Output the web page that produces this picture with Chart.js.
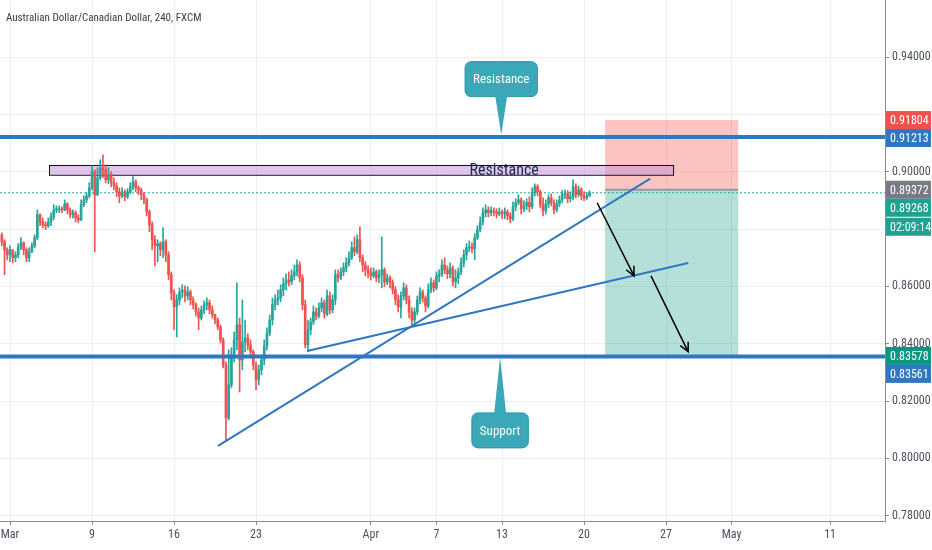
<!DOCTYPE html>
<html>
<head>
<meta charset="utf-8">
<title>AUD/CAD 240</title>
<script src="https://cdn.jsdelivr.net/npm/chart.js@4.4.1/dist/chart.umd.min.js"></script>
<style>
  html, body { margin: 0; padding: 0; background: #fff; }
  #wrap { width: 932px; height: 550px; }
</style>
</head>
<body>
<div id="wrap"><canvas id="chart" width="932" height="550"></canvas></div>
<script>
// AUD/CAD, 4h candles, 2 Mar - 20 Apr 2020.
// x = candle count from Mon 2 Mar (6 candles per trading day, weekends skipped)

// === data ===
const firstIndex = -3;
const firstOpen = 0.8780;

const closes = [
  0.8756, 0.8728, 0.8710, 0.8728, 0.8700, 0.8710, 0.8738, 0.8752, 0.8728, 0.8700,
  0.8721, 0.8742, 0.8770, 0.8850, 0.8825, 0.8815, 0.8812, 0.8825, 0.8843, 0.8867,
  0.8867, 0.8871, 0.8867, 0.8888, 0.8867, 0.8850, 0.8857, 0.8839, 0.8832, 0.8885,
  0.8902, 0.8916, 0.8944, 0.9000, 0.8920, 0.8979, 0.9014, 0.9007, 0.8972, 0.8990,
  0.8962, 0.8951, 0.8930, 0.8916, 0.8930, 0.8913, 0.8930, 0.8948, 0.8965, 0.8944,
  0.8937, 0.8920, 0.8902, 0.8860, 0.8815, 0.8763, 0.8742, 0.8749, 0.8728, 0.8756,
  0.8710, 0.8641, 0.8578, 0.8529, 0.8553, 0.8581, 0.8588, 0.8567, 0.8581, 0.8553,
  0.8536, 0.8511, 0.8490, 0.8518, 0.8536, 0.8543, 0.8518, 0.8501, 0.8483, 0.8459,
  0.8414, 0.8326, 0.8141, 0.8257, 0.8361, 0.8414, 0.8466, 0.8344, 0.8407, 0.8421,
  0.8396, 0.8372, 0.8326, 0.8274, 0.8309, 0.8344, 0.8393, 0.8438, 0.8483, 0.8536,
  0.8553, 0.8560, 0.8588, 0.8609, 0.8623, 0.8616, 0.8637, 0.8651, 0.8675, 0.8630,
  0.8536, 0.8396, 0.8449, 0.8476, 0.8511, 0.8497, 0.8525, 0.8543, 0.8504, 0.8567,
  0.8518, 0.8553, 0.8641, 0.8630, 0.8651, 0.8665, 0.8682, 0.8700, 0.8735, 0.8721,
  0.8763, 0.8700, 0.8675, 0.8658, 0.8647, 0.8637, 0.8651, 0.8630, 0.8641, 0.8658,
  0.8616, 0.8630, 0.8613, 0.8588, 0.8553, 0.8529, 0.8567, 0.8595, 0.8553, 0.8511,
  0.8483, 0.8511, 0.8553, 0.8581, 0.8560, 0.8532, 0.8588, 0.8613, 0.8595, 0.8637,
  0.8644, 0.8675, 0.8658, 0.8644, 0.8665, 0.8616, 0.8630, 0.8651, 0.8682, 0.8710,
  0.8735, 0.8738, 0.8731, 0.8770, 0.8798, 0.8825, 0.8857, 0.8867, 0.8857, 0.8864,
  0.8860, 0.8853, 0.8860, 0.8853, 0.8860, 0.8846, 0.8836, 0.8878, 0.8892, 0.8902,
  0.8871, 0.8881, 0.8892, 0.8878, 0.8927, 0.8948, 0.8930, 0.8885, 0.8864, 0.8888,
  0.8909, 0.8892, 0.8867, 0.8888, 0.8902, 0.8920, 0.8923, 0.8906, 0.8913, 0.8948,
  0.8920, 0.8937, 0.8916, 0.8909, 0.8916, 0.89268
];

const highs = [
  0.8787, 0.8763, 0.8735, 0.8742, 0.8728, 0.8721, 0.8749, 0.8770, 0.8756, 0.8735,
  0.8735, 0.8752, 0.8780, 0.8867, 0.8853, 0.8839, 0.8825, 0.8839, 0.8857, 0.8885,
  0.8881, 0.8881, 0.8878, 0.8902, 0.8892, 0.8874, 0.8867, 0.8864, 0.8850, 0.8902,
  0.8916, 0.8927, 0.8962, 0.9021, 0.9007, 0.9014, 0.9042, 0.9059, 0.9024, 0.9014,
  0.9000, 0.8979, 0.8962, 0.8944, 0.8944, 0.8937, 0.8941, 0.8962, 0.8983, 0.8972,
  0.8951, 0.8944, 0.8927, 0.8909, 0.8867, 0.8825, 0.8777, 0.8763, 0.8756, 0.8805,
  0.8763, 0.8721, 0.8651, 0.8588, 0.8571, 0.8595, 0.8606, 0.8602, 0.8599, 0.8588,
  0.8564, 0.8543, 0.8525, 0.8532, 0.8550, 0.8560, 0.8553, 0.8532, 0.8504, 0.8490,
  0.8466, 0.8421, 0.8337, 0.8379, 0.8386, 0.8442, 0.8613, 0.8490, 0.8553, 0.8483,
  0.8435, 0.8414, 0.8379, 0.8337, 0.8326, 0.8361, 0.8414, 0.8456, 0.8501, 0.8560,
  0.8571, 0.8588, 0.8606, 0.8630, 0.8644, 0.8651, 0.8658, 0.8675, 0.8693, 0.8686,
  0.8641, 0.8553, 0.8483, 0.8490, 0.8532, 0.8525, 0.8543, 0.8560, 0.8553, 0.8588,
  0.8581, 0.8571, 0.8658, 0.8658, 0.8665, 0.8682, 0.8700, 0.8721, 0.8756, 0.8773,
  0.8780, 0.8808, 0.8710, 0.8686, 0.8672, 0.8665, 0.8665, 0.8658, 0.8658, 0.8773,
  0.8665, 0.8644, 0.8637, 0.8623, 0.8599, 0.8571, 0.8581, 0.8613, 0.8606, 0.8567,
  0.8525, 0.8525, 0.8567, 0.8595, 0.8588, 0.8567, 0.8609, 0.8630, 0.8623, 0.8651,
  0.8658, 0.8693, 0.8700, 0.8672, 0.8682, 0.8672, 0.8658, 0.8665, 0.8700, 0.8728,
  0.8749, 0.8759, 0.8752, 0.8784, 0.8812, 0.8843, 0.8874, 0.8885, 0.8878, 0.8878,
  0.8874, 0.8871, 0.8874, 0.8867, 0.8874, 0.8867, 0.8857, 0.8895, 0.8906, 0.8920,
  0.8909, 0.8899, 0.8906, 0.8913, 0.8944, 0.8958, 0.8955, 0.8937, 0.8909, 0.8902,
  0.8920, 0.8923, 0.8902, 0.8902, 0.8916, 0.8934, 0.8937, 0.8934, 0.8930, 0.8972,
  0.8958, 0.8951, 0.8944, 0.8930, 0.8927, 0.8934
];

const lows = [
  0.8742, 0.8641, 0.8693, 0.8686, 0.8682, 0.8686, 0.8700, 0.8728, 0.8710, 0.8686,
  0.8686, 0.8717, 0.8735, 0.8763, 0.8812, 0.8805, 0.8798, 0.8805, 0.8812, 0.8832,
  0.8857, 0.8857, 0.8857, 0.8864, 0.8853, 0.8839, 0.8839, 0.8825, 0.8822, 0.8829,
  0.8878, 0.8892, 0.8909, 0.8937, 0.8721, 0.8916, 0.8972, 0.8979, 0.8962, 0.8958,
  0.8948, 0.8937, 0.8913, 0.8892, 0.8909, 0.8899, 0.8906, 0.8923, 0.8937, 0.8930,
  0.8920, 0.8902, 0.8888, 0.8846, 0.8791, 0.8728, 0.8672, 0.8686, 0.8707, 0.8700,
  0.8686, 0.8623, 0.8553, 0.8449, 0.8424, 0.8536, 0.8560, 0.8546, 0.8553, 0.8536,
  0.8522, 0.8497, 0.8449, 0.8483, 0.8504, 0.8518, 0.8504, 0.8490, 0.8469, 0.8449,
  0.8403, 0.8316, 0.8065, 0.8134, 0.8246, 0.8337, 0.8379, 0.8232, 0.8309, 0.8372,
  0.8379, 0.8351, 0.8309, 0.8239, 0.8257, 0.8292, 0.8326, 0.8379, 0.8428, 0.8466,
  0.8518, 0.8536, 0.8546, 0.8567, 0.8588, 0.8602, 0.8606, 0.8623, 0.8637, 0.8616,
  0.8518, 0.8386, 0.8372, 0.8431, 0.8466, 0.8483, 0.8490, 0.8511, 0.8490, 0.8497,
  0.8504, 0.8508, 0.8536, 0.8616, 0.8623, 0.8637, 0.8651, 0.8672, 0.8693, 0.8707,
  0.8714, 0.8686, 0.8651, 0.8637, 0.8630, 0.8623, 0.8630, 0.8616, 0.8613, 0.8595,
  0.8599, 0.8606, 0.8595, 0.8574, 0.8536, 0.8511, 0.8490, 0.8553, 0.8539, 0.8490,
  0.8466, 0.8469, 0.8501, 0.8539, 0.8546, 0.8511, 0.8525, 0.8578, 0.8581, 0.8588,
  0.8616, 0.8634, 0.8644, 0.8627, 0.8630, 0.8602, 0.8595, 0.8609, 0.8641, 0.8668,
  0.8693, 0.8721, 0.8717, 0.8693, 0.8763, 0.8791, 0.8815, 0.8843, 0.8843, 0.8846,
  0.8846, 0.8839, 0.8846, 0.8836, 0.8836, 0.8832, 0.8822, 0.8829, 0.8864, 0.8885,
  0.8853, 0.8860, 0.8867, 0.8860, 0.8871, 0.8916, 0.8916, 0.8874, 0.8846, 0.8853,
  0.8874, 0.8881, 0.8853, 0.8860, 0.8878, 0.8892, 0.8906, 0.8892, 0.8895, 0.8902,
  0.8909, 0.8913, 0.8902, 0.8899, 0.8902, 0.8913
];

// time axis: candle positions of the date labels
const tickValues = [0, 30, 60, 90, 132, 156, 180, 210, 240, 264, 300];
const tickLabels = ['Mar', '9', '16', '23', 'Apr', '7', '13', '20', '27', 'May', '11'];

const xRange = [-3.66, 320.1];
const yRange = [0.7782, 0.9599];

// drawings on the chart (time in candles, price)
const resistanceLevel = 0.91213;
const supportLevel = 0.83561;
const lastPrice = 0.89268;
const countdown = '02:09:14';
const trendLineA = [[76.1, 0.8044], [234.2, 0.8976]];
const trendLineB = [[108.7, 0.8375], [248.1, 0.8682]];
const resistanceZone = [14.3, 242.6, 0.9024, 0.8990, 'Resistance', 180.8]; // from, to, top, bottom, text, text x
const shortPosition = [217.7, 266.4, 0.91804, 0.89372, 0.83578];         // from, to, stop, entry, target
const arrows = [[214.8, 0.8892, 228.3, 0.8637], [234.5, 0.8637, 248.1, 0.8372]];
const callouts = [
  ['Resistance', 179.7, 0.9129, 179.7, 0.9323],  // text, tip x, tip price, box x, box price
  ['Support', 179.3, 0.8354, 179.3, 0.8098]
];
const priceLabels = [
  [0.91804, '#f0524b'],
  [0.91213, '#2f78c0'],
  [0.89372, '#787b86'],
  [0.89268, '#21a18f', countdown],
  [0.83578, '#0a9782'],
  [0.83561, '#2f78c0']
];

// === candles built from the arrays ===
const FONT = "'Liberation Sans Narrow', 'Arial Narrow', 'Roboto Condensed', Arial, sans-serif";
const UP = '#26a69a';
const DOWN = '#ef5350';

const candles = closes.map((c, i) => {
  const open = i === 0 ? firstOpen : closes[i - 1];
  return {
    x: firstIndex + i,
    open,
    close: c,
    high: Math.max(highs[i], open, c),
    low: Math.min(lows[i], open, c)
  };
});
const candleColors = candles.map(k => (k.close >= k.open ? UP : DOWN));

const pt = ([x, y]) => ({ x, y });

// stack the price labels of the right scale so they do not overlap
const BOX_H = 18;
function layoutPriceBoxes(yScale) {
  const out = [];
  let bottom = -Infinity;
  priceLabels
    .map(([v, color, extra]) => ({ v, color, extra, py: yScale.getPixelForValue(v) }))
    .sort((p, q) => p.py - q.py)
    .forEach(b => {
      const top = Math.max(b.py - BOX_H / 2, bottom);
      out.push({ top, text: b.v.toFixed(5), color: b.color });
      bottom = top + BOX_H;
      if (b.extra) {
        out.push({ top: bottom + 1, text: b.extra, color: b.color });
        bottom += BOX_H + 1;
      }
    });
  return out;
}

// === drawing tools (zones, arrows, callouts, axis labels) ===
const drawings = {
  id: 'drawings',
  afterLayout(chart) {
    // like the trading view scale: hide tick labels sitting under a price label
    const y = chart.scales.y;
    const boxes = layoutPriceBoxes(y);
    y.ticks.forEach(t => {
      const p = y.getPixelForValue(t.value);
      if (boxes.some(b => p >= b.top && p <= b.top + BOX_H)) t.label = '';
    });
  },
  beforeDatasetsDraw(chart) {
    const { ctx, chartArea: a, scales: { x, y } } = chart;
    ctx.save();
    ctx.beginPath();
    ctx.rect(a.left, a.top, a.right - a.left, a.bottom - a.top);
    ctx.clip();

    // short position: stop zone and target zone
    const [from, to, stop, entry, target] = shortPosition;
    const x0 = x.getPixelForValue(from), x1 = x.getPixelForValue(to);
    const yStop = y.getPixelForValue(stop), yEntry = y.getPixelForValue(entry), yTarget = y.getPixelForValue(target);
    ctx.fillStyle = 'rgba(242, 70, 60, 0.32)';
    ctx.fillRect(x0, yStop, x1 - x0, yEntry - yStop);
    ctx.fillStyle = 'rgba(8, 153, 129, 0.3)';
    ctx.fillRect(x0, yEntry, x1 - x0, yTarget - yEntry);
    ctx.strokeStyle = '#9598a1';
    ctx.lineWidth = 2;
    ctx.beginPath();
    ctx.moveTo(x0, yEntry);
    ctx.lineTo(x1, yEntry);
    ctx.stroke();

    // resistance box
    const [rFrom, rTo, rTop, rBottom] = resistanceZone;
    const rx0 = x.getPixelForValue(rFrom), rx1 = x.getPixelForValue(rTo);
    const ry0 = y.getPixelForValue(rTop), ry1 = y.getPixelForValue(rBottom);
    ctx.fillStyle = 'rgba(200, 150, 225, 0.55)';
    ctx.fillRect(rx0, ry0, rx1 - rx0, ry1 - ry0);
    ctx.strokeStyle = '#111';
    ctx.lineWidth = 1;
    ctx.strokeRect(Math.round(rx0) + 0.5, Math.round(ry0) + 0.5, rx1 - rx0, ry1 - ry0);
    ctx.restore();
  },
  afterDatasetsDraw(chart) {
    const { ctx, chartArea: a, scales: { x, y } } = chart;
    ctx.save();
    ctx.beginPath();
    ctx.rect(a.left, a.top, a.right - a.left, a.bottom - a.top);
    ctx.clip();

    // text of the resistance box
    const [, , rTop, rBottom, rText, rTextX] = resistanceZone;
    ctx.fillStyle = '#1d2b50';
    ctx.font = '16px ' + FONT;
    ctx.textAlign = 'center';
    ctx.textBaseline = 'middle';
    ctx.fillText(rText, x.getPixelForValue(rTextX), (y.getPixelForValue(rTop) + y.getPixelForValue(rBottom)) / 2 + 1);

    // arrows
    ctx.strokeStyle = '#000';
    ctx.lineWidth = 1.5;
    arrows.forEach(([ax, ay, bx, by]) => {
      const p0 = [x.getPixelForValue(ax), y.getPixelForValue(ay)];
      const p1 = [x.getPixelForValue(bx), y.getPixelForValue(by)];
      const ang = Math.atan2(p1[1] - p0[1], p1[0] - p0[0]);
      ctx.beginPath();
      ctx.moveTo(p0[0], p0[1]);
      ctx.lineTo(p1[0], p1[1]);
      ctx.moveTo(p1[0] - 10 * Math.cos(ang - 0.45), p1[1] - 10 * Math.sin(ang - 0.45));
      ctx.lineTo(p1[0], p1[1]);
      ctx.lineTo(p1[0] - 10 * Math.cos(ang + 0.45), p1[1] - 10 * Math.sin(ang + 0.45));
      ctx.stroke();
    });

    // callouts
    ctx.font = '13px ' + FONT;
    callouts.forEach(([text, tx, ty, bx, by]) => {
      const tipX = x.getPixelForValue(tx), tipY = y.getPixelForValue(ty);
      const cx = x.getPixelForValue(bx), cy = y.getPixelForValue(by);
      const w = ctx.measureText(text).width + 16, h = 35;
      const left = cx - w / 2, top = cy - h / 2;
      const baseY = tipY < top ? top + 1 : top + h - 1;
      ctx.fillStyle = '#3aa8b6';
      ctx.strokeStyle = '#2b97a5';
      ctx.lineWidth = 1;
      ctx.beginPath();
      ctx.roundRect(left, top, w, h, 6);
      ctx.fill();
      ctx.stroke();
      ctx.beginPath();
      ctx.moveTo(cx - 6, baseY);
      ctx.lineTo(tipX, tipY);
      ctx.lineTo(cx + 6, baseY);
      ctx.closePath();
      ctx.fill();
      ctx.fillStyle = '#ffffff';
      ctx.textAlign = 'center';
      ctx.textBaseline = 'middle';
      ctx.fillText(text, cx, cy + 1);
    });
    ctx.restore();
  },
  afterDraw(chart) {
    const { ctx, chartArea: a, scales: { y } } = chart;
    ctx.save();
    // symbol title
    ctx.font = '11px ' + FONT;
    ctx.fillStyle = '#3a3d46';
    ctx.textAlign = 'left';
    ctx.textBaseline = 'alphabetic';
    ctx.fillText('Australian Dollar/Canadian Dollar, 240, FXCM', 6, 21);

    // price labels on the right scale
    ctx.font = '12px ' + FONT;
    ctx.textBaseline = 'middle';
    layoutPriceBoxes(y).forEach(b => {
      ctx.fillStyle = b.color;
      ctx.fillRect(a.right + 1, b.top, 45, BOX_H);
      ctx.fillStyle = '#fff';
      ctx.fillText(b.text, a.right + 5, b.top + BOX_H / 2 + 1);
    });
    ctx.restore();
  }
};

// === chart ===
const ctx = document.getElementById('chart').getContext('2d');

new Chart(ctx, {
  data: {
    datasets: [
      {
        type: 'line',
        data: [pt([xRange[0], lastPrice]), pt([xRange[1], lastPrice])],
        borderColor: '#26a69a',
        borderWidth: 1,
        borderDash: [2, 2],
        pointRadius: 0,
        order: 5
      },
      {
        type: 'bar',
        data: candles.map(k => ({ x: k.x, y: [k.low, k.high] })),
        backgroundColor: candleColors,
        barThickness: 1,
        grouped: false,
        order: 4
      },
      {
        type: 'bar',
        data: candles.map(k => ({ x: k.x, y: [k.open, k.close] })),
        backgroundColor: candleColors,
        barThickness: 2,
        minBarLength: 1,
        grouped: false,
        order: 3
      },
      {
        type: 'line',
        data: [pt([xRange[0], resistanceLevel]), pt([xRange[1], resistanceLevel])],
        borderColor: '#2f78c0',
        borderWidth: 4,
        pointRadius: 0,
        order: 2
      },
      {
        type: 'line',
        data: [pt([xRange[0], supportLevel]), pt([xRange[1], supportLevel])],
        borderColor: '#2f78c0',
        borderWidth: 4,
        pointRadius: 0,
        order: 2
      },
      {
        type: 'line',
        data: trendLineA.map(pt),
        borderColor: '#2f78c0',
        borderWidth: 2,
        pointRadius: 0,
        order: 1
      },
      {
        type: 'line',
        data: trendLineB.map(pt),
        borderColor: '#2f78c0',
        borderWidth: 2,
        pointRadius: 0,
        order: 1
      }
    ]
  },
  options: {
    responsive: false,
    animation: false,
    layout: { padding: 0 },
    plugins: {
      legend: { display: false },
      tooltip: { enabled: false },
      title: { display: false }
    },
    scales: {
      x: {
        type: 'linear',
        position: 'bottom',
        min: xRange[0],
        max: xRange[1],
        offset: false,
        afterBuildTicks: s => { s.ticks = tickValues.map(v => ({ value: v })); },
        afterFit: s => { s.height = 29; s.paddingLeft = 0; s.paddingRight = 0; },
        ticks: {
          autoSkip: false,
          maxRotation: 0,
          padding: 3,
          color: '#4c525e',
          font: { family: FONT, size: 12 },
          callback: v => tickLabels[tickValues.indexOf(v)] ?? ''
        },
        grid: { offset: false, color: '#eceff4', tickColor: '#8a8d96', tickLength: 4 },
        border: { color: '#8a8d96' }
      },
      y: {
        type: 'linear',
        position: 'right',
        min: yRange[0],
        max: yRange[1],
        afterFit: s => { s.width = 47; s.paddingTop = 0; s.paddingBottom = 0; },
        ticks: {
          stepSize: 0.02,
          includeBounds: false,
          padding: 3,
          color: '#4c525e',
          font: { family: FONT, size: 12 },
          callback: v => v.toFixed(5)
        },
        grid: { color: '#eceff4', tickColor: '#8a8d96', tickLength: 4 },
        border: { color: '#8a8d96' }
      }
    }
  },
  plugins: [drawings]
});
</script>
</body>
</html>
